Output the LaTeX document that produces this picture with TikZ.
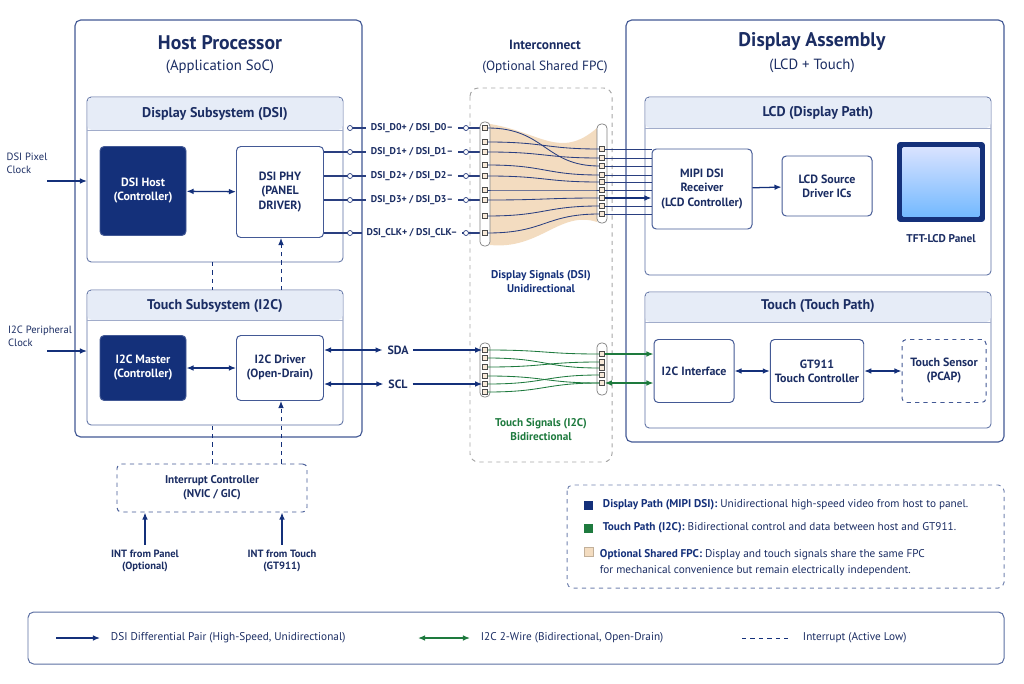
\documentclass[tikz,border=0pt]{standalone}
\usepackage{fontspec}
\setmainfont{PT Sans}
\usetikzlibrary{arrows.meta, positioning}
\definecolor{navy}{HTML}{14307A}
\definecolor{ink}{HTML}{1B2D63}
\definecolor{hdr}{HTML}{E6ECF7}
\definecolor{wire}{HTML}{2A3F80}
\definecolor{grn}{HTML}{1E7A3E}
\definecolor{fpc}{HTML}{F3DCC0}
\tikzset{
  frame/.style={draw=navy!80, line width=0.8pt, rounded corners=4pt, fill=white},
  sub/.style={draw=navy!70, line width=0.6pt, rounded corners=3pt, fill=white},
  blk/.style={draw=navy!80, line width=0.7pt, rounded corners=3pt, fill=white, align=center, text=ink, font=\bfseries\fontsize{8.5}{10}\selectfont},
  dark/.style={blk, fill=navy, text=white},
  dblk/.style={blk, dashed},
  sz/.style 2 args={minimum width={#1*0.025cm}, minimum height={#2*0.025cm}},
  ttl/.style={text=ink, font=\bfseries\fontsize{14}{16}\selectfont},
  stl/.style={text=ink, font=\fontsize{10.5}{12}\selectfont},
  htl/.style={text=ink, font=\bfseries\fontsize{10}{12}\selectfont},
  lbl/.style={text=ink, align=center, font=\fontsize{7.5}{9}\selectfont},
  sig/.style={text=ink, font=\bfseries\fontsize{7}{8}\selectfont},
  arr/.style={-{Latex[length=5pt,width=4pt]}, navy, line width=0.9pt},
  darr/.style={{Latex[length=5pt,width=4pt]}-{Latex[length=5pt,width=4pt]}, navy, line width=0.9pt},
  garr/.style={{Latex[length=5pt,width=4pt]}-{Latex[length=5pt,width=4pt]}, grn, line width=0.9pt},
  dsh/.style={navy, dashed, line width=0.7pt},
  pad/.style={draw=black!70, fill=fpc!60, minimum size=3.5pt, inner sep=0pt, line width=0.4pt},
  strip/.style={draw=black!50, fill=white, rounded corners=3pt, line width=0.5pt},
}
\begin{document}
\begin{tikzpicture}[x=0.025cm, y=-0.025cm]
  \useasboundingbox (0,0) rectangle (1024,683);
  % main frames
  \draw[frame] (75,20) rectangle (362,437);
  \node[ttl] (hostT) at (220,43) {Host Processor};
  \node[stl] (hostS) at (220,67) {(Application SoC)};
  \draw[frame] (626,20) rectangle (1004,442);
  \node[ttl] (dispT) at (812,42) {Display Assembly};
  \node[stl] (dispS) at (812,66) {(LCD + Touch)};
  \draw[dsh, gray!70, rounded corners=6pt] (470,88) rectangle (612,462);
  \node[htl, font=\bfseries\fontsize{9.5}{11}\selectfont] (icT) at (545,45) {Interconnect};
  \node[stl, font=\fontsize{9.5}{11}\selectfont] (icS) at (545,67) {(Optional Shared FPC)};

  % subsystems
  \foreach \xa/\ya/\xb/\yb/\yh in {87/97/343/262/130, 87/290/343/425/320, 645/97/991/275/128, 645/292/991/428/322}{
    \draw[sub] (\xa,\ya) rectangle (\xb,\yb);
    \fill[hdr, rounded corners=3pt] (\xa+0.5,\ya+0.5) rectangle (\xb-0.5,\yh);
    \draw[navy!40, line width=0.4pt] (\xa,\yh) -- (\xb,\yh);
  }
  \node[htl] (dsT) at (215,114) {Display Subsystem (DSI)};
  \node[htl] (tsT) at (215,306) {Touch Subsystem (I2C)};
  \node[htl] (lcdT) at (818,113) {LCD (Display Path)};
  \node[htl] (tpT) at (818,306) {Touch (Touch Path)};

  % host blocks
  \node[dark, sz={86}{89}] (dsihost) at (143,191) {DSI Host\\(Controller)};
  \node[blk, sz={87}{91}] (dsiphy) at (280,192) {DSI PHY\\(PANEL\\DRIVER)};
  \node[dark, sz={86}{65}] (i2cm) at (143,368) {I2C Master\\(Controller)};
  \node[blk, sz={87}{65}] (i2cd) at (280,368) {I2C Driver\\(Open-Drain)};
  \draw[darr] (dsihost) -- (dsiphy);
  \draw[darr] (i2cm) -- (i2cd);

  % clocks
  \node[lbl, align=left] (pclk) at (27,163) {DSI Pixel\\Clock};
  \node[lbl, align=left] (iclk) at (40,336) {I2C Peripheral\\Clock};
  \coordinate (pclkA) at (47,181);
  \coordinate (iclkA) at (47,351);
  \draw[arr] (pclkA) -- (87,181);
  \draw[arr] (iclkA) -- (87,351);

  % interrupts
  \node[dblk, font=\bfseries\fontsize{8}{10}\selectfont, sz={190}{48}] (intc) at (212,488) {Interrupt Controller\\(NVIC / GIC)};
  \node[lbl, font=\bfseries\fontsize{7.5}{9}\selectfont] (intp) at (145,561) {INT from Panel\\(Optional)};
  \node[lbl, font=\bfseries\fontsize{7.5}{9}\selectfont] (intt) at (282,561) {INT from Touch\\(GT911)};
  \draw[arr] (intp.north) -- (intp.north |- intc.south);
  \draw[arr] (intt.north) -- (intt.north |- intc.south);
  \draw[dsh] (212,262) -- (212,290);
  \draw[dsh, -{Latex[length=5pt,width=4pt]}] (281,290) -- (dsiphy.south -| 281,0);
  \draw[dsh] (intc.north -| 212,0) -- (212,425);
  \draw[dsh, -{Latex[length=5pt,width=4pt]}] (intc.north -| 281,0) -- (i2cd.south -| 281,0);

  % DSI lanes
  \foreach \y/\t [count=\i] in {128/{DSI\_D0+ / DSI\_D0\textendash}, 152/{DSI\_D1+ / DSI\_D1\textendash}, 176/{DSI\_D2+ / DSI\_D2\textendash}, 200/{DSI\_D3+ / DSI\_D3\textendash}, 233/{DSI\_CLK+ / DSI\_CLK\textendash}}{
    \node[sig] (lane\i) at (412,\y) {\t};
    \coordinate (laneL\i) at (350,\y);
    \coordinate (laneR\i) at (466,\y);
  }
  \foreach \i in {2,...,5}{\draw[wire, line width=0.8pt] (laneL\i -| dsiphy.east) -- (lane\i.west);}
  \foreach \i in {1,...,5}{
    \draw[wire, line width=0.8pt] (laneL\i) -- (lane\i.west);
    \draw[wire, line width=0.8pt] (lane\i.east) -- (484,0 |- laneR\i);
    \draw[wire, fill=white, line width=0.5pt] (laneL\i) circle (2.5);
    \draw[wire, fill=white, line width=0.5pt] (laneR\i) circle (2.5);
  }

  % FPC ribbon (display)
  \fill[fpc] (490,124) .. controls (540,132) and (560,160) .. (597,128) -- (597,222)
    .. controls (560,210) and (540,250) .. (490,245) -- cycle;
  \draw[strip] (480,122) rectangle (490,246);
  \draw[strip] (597,124) rectangle (607,223);
  \foreach \y [count=\i] in {128,142,152,165,176,190,200,216,233}{
    \node[pad] (pl\i) at (485,\y) {};
  }
  \foreach \y [count=\i] in {149,158,166,175,182,190,198,206,214}{
    \node[pad] (pr\i) at (602,\y) {};
  }
  \foreach \a/\b in {1/3,2/1,3/2,4/4,5/5,6/6,7/7,8/8,9/9}{
    \draw[wire, line width=0.6pt] (pl\a.east) .. controls (545,0 |- pl\a) and (545,0 |- pr\b) .. (pr\b.west);
  }
  \node[blk, sz={100}{80}] (mipi) at (702,189) {MIPI DSI\\Receiver\\(LCD Controller)};
  \foreach \i in {1,...,9}{
    \ifnum\i=7
      \draw[arr] (pr\i.east) -- (pr\i -| mipi.west);
    \else
      \draw[wire, line width=0.6pt] (pr\i.east) -- (pr\i -| mipi.west);
    \fi
  }
  \node[lbl, font=\bfseries\fontsize{8}{10}\selectfont, text=navy] (dsig) at (541,282) {Display Signals (DSI)\\Unidirectional};

  % LCD path
  \node[blk, sz={90}{60}] (src) at (827,186) {LCD Source\\Driver ICs};
  \draw[arr] (mipi) -- (src);
  \node[draw=navy, fill=navy, line width=0.6pt, rounded corners=2pt, sz={87}{79}, inner sep=0pt] (panel) at (941,182) {};
  \shade[top color=cyan!25!blue!15, bottom color=cyan!50!blue!55, rounded corners=1pt] ([shift={(5,5)}]panel.north west) rectangle ([shift={(-5,-5)}]panel.south east);
  \node[lbl, font=\bfseries\fontsize{8}{10}\selectfont] (panelT) at (941,239) {TFT-LCD Panel};

  % I2C wires
  \node[sig, font=\bfseries\fontsize{8.5}{10}\selectfont] (sda) at (398,350) {SDA};
  \node[sig, font=\bfseries\fontsize{8.5}{10}\selectfont] (scl) at (398,384) {SCL};
  \draw[darr] (i2cd.east |- sda) -- (sda.west);
  \draw[darr] (i2cd.east |- scl) -- (scl.west);
  \draw[strip] (480,343) rectangle (490,397);
  \draw[strip] (597,343) rectangle (607,395);
  \foreach \y [count=\i] in {350,358,367,376,384,392}{
    \node[pad] (tl\i) at (485,\y) {};
  }
  \foreach \y [count=\i] in {354,362,368,375,383}{
    \node[pad] (tr\i) at (602,\y) {};
  }
  \draw[arr] (sda.east) -- (tl1.west);
  \draw[arr] (scl.east) -- (tl5.west);
  \foreach \a/\b in {1/1,2/3,3/2,4/5,5/4,6/5}{
    \draw[grn, line width=0.6pt] (tl\a.east) .. controls (545,0 |- tl\a) and (545,0 |- tr\b) .. (tr\b.west);
  }
  \node[lbl, font=\bfseries\fontsize{8}{10}\selectfont, text=grn] (tsig) at (541,430) {Touch Signals (I2C)\\Bidirectional};

  % touch path
  \node[blk, sz={80}{63}] (i2cif) at (694,371) {I2C Interface};
  \node[blk, sz={90}{63}] (gt) at (817,371) {GT911\\Touch Controller};
  \node[dblk, sz={84}{63}] (sens) at (944,371) {Touch Sensor\\(PCAP)};
  \draw[grn, line width=0.9pt, -{Latex[length=5pt,width=4pt]}] (tr1.east) -- (tr1 -| i2cif.west);
  \draw[garr] (tr5.east) -- (tr5 -| i2cif.west);
  \draw[darr] (i2cif) -- (gt);
  \draw[darr] (gt) -- (sens);

  % notes
  \draw[dsh, navy!60, rounded corners=4pt] (567,485) rectangle (1004,588);
  \fill[navy] (584,501) rectangle (593,510);
  \fill[grn] (584,524) rectangle (593,533);
  \filldraw[fill=fpc, draw=fpc!80!black] (584,547) rectangle (593,556);
  \node[lbl, anchor=west, align=left, font=\fontsize{8}{10}\selectfont] (n1) at (598,505) {\textbf{\color{navy}Display Path (MIPI DSI):} Unidirectional high-speed video from host to panel.};
  \node[lbl, anchor=west, align=left, font=\fontsize{8}{10}\selectfont] (n2) at (598,528) {\textbf{\color{navy}Touch Path (I2C):} Bidirectional control and data between host and GT911.};
  \node[lbl, anchor=north west, align=left, font=\fontsize{8}{11.5}\selectfont] (n3) at (595,544) {\textbf{\color{navy}Optional Shared FPC:} Display and touch signals share the same FPC\\for mechanical convenience but remain electrically independent.};

  % legend
  \draw[navy!70, line width=0.7pt, rounded corners=4pt] (28,612) rectangle (1004,664);
  \coordinate (lg1a) at (56,638);
  \coordinate (lg1b) at (100,638);
  \coordinate (lg2a) at (418,638);
  \coordinate (lg2b) at (470,638);
  \coordinate (lg3a) at (742,638);
  \coordinate (lg3b) at (790,638);
  \draw[arr] (lg1a) -- (lg1b);
  \node[lbl, anchor=west, font=\fontsize{8}{10}\selectfont] (lg1) at (106,638) {DSI Differential Pair (High-Speed, Unidirectional)};
  \draw[garr] (lg2a) -- (lg2b);
  \node[lbl, anchor=west, font=\fontsize{8}{10}\selectfont] (lg2) at (476,638) {I2C 2-Wire (Bidirectional, Open-Drain)};
  \draw[dsh] (lg3a) -- (lg3b);
  \node[lbl, anchor=west, font=\fontsize{8}{10}\selectfont] (lg3) at (798,638) {Interrupt (Active Low)};
\end{tikzpicture}
\end{document}
